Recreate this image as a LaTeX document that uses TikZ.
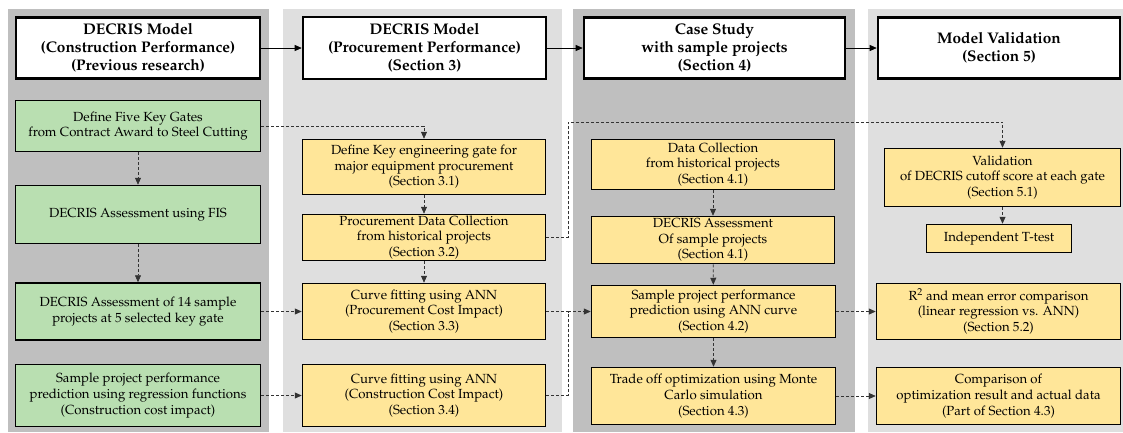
\documentclass[tikz,border=0pt]{standalone}
\usepackage[T1]{fontenc}
\usepackage{mathpazo}
\usetikzlibrary{arrows.meta}

\definecolor{darkbg}{HTML}{BFBFBF}
\definecolor{lightbg}{HTML}{DFDFDF}
\definecolor{greenbox}{HTML}{B9DFB1}
\definecolor{yellowbox}{HTML}{FFE699}

\begin{document}
\begin{tikzpicture}[x=1pt, y=-1pt,
    header/.style={draw, line width=2.6pt, fill=white, align=center, inner sep=0pt,
        font=\fontsize{15.4}{18}\selectfont\bfseries},
    stepbox/.style={draw, line width=1.5pt, align=center, inner sep=0pt,
        font=\fontsize{13.2}{15.6}\selectfont},
    greenstep/.style={stepbox, fill=greenbox},
    yellowstep/.style={stepbox, fill=yellowbox},
    flow/.style={-{Triangle[length=7pt,width=6pt]}, line width=0.7pt},
    dflow/.style={flow, dashed, dash pattern=on 3pt off 2pt, draw=black!80},
    dline/.style={dashed, dash pattern=on 3pt off 2pt, line width=0.7pt, draw=black!80}]

    \useasboundingbox (0,0) rectangle (1123,432);

    % Column backgrounds
    \fill[darkbg]  (8,9)   rectangle (269,432);
    \fill[lightbg] (283,9) rectangle (562,432);
    \fill[darkbg]  (573,9) rectangle (855,432);
    \fill[lightbg] (868,9) rectangle (1123,432);

    % Headers
    \node[header, minimum width=244pt, minimum height=61pt] (h1) at (138,48)
        {DECRIS Model\\(Construction Performance)\\(Previous research)};
    \node[header, minimum width=243pt, minimum height=62pt] (h2) at (424.5,48)
        {DECRIS Model\\(Procurement Performance)\\(Section 3)};
    \node[header, minimum width=261pt, minimum height=61pt] (h3) at (714.5,48)
        {Case Study\\with sample projects\\(Section 4)};
    \node[header, minimum width=242pt, minimum height=61pt] (h4) at (999,48)
        {Model Validation\\(Section 5)};

    \draw[flow] (h1) -- (h2);
    \draw[flow] (h2) -- (h3);
    \draw[flow] (h3) -- (h4);

    % Column 1 (previous research)
    \node[greenstep, minimum width=245pt, minimum height=51pt] (g1) at (138,126)
        {Define Five Key Gates\\from Contract Award to Steel Cutting};
    \node[greenstep, minimum width=245pt, minimum height=58pt] (g2) at (138,214.5)
        {DECRIS Assessment using FIS};
    \node[greenstep, minimum width=245pt, minimum height=57pt] (g3) at (138,311.5)
        {DECRIS Assessment of 14 sample\\projects at 5 selected key gate};
    \node[greenstep, minimum width=245pt, minimum height=62pt] (g4) at (138,395.5)
        {Sample project performance\\prediction using regression functions\\(Construction cost impact)};

    \draw[dflow] (g1) -- (g2);
    \draw[dflow] (g2) -- (g3);

    % Column 2 (section 3)
    \node[yellowstep, minimum width=243pt, minimum height=55pt] (p1) at (424,167)
        {Define Key engineering gate for\\major equipment procurement\\(Section 3.1)};
    \node[yellowstep, minimum width=243pt, minimum height=46pt] (p2) at (424,237.5)
        {Procurement Data Collection\\from historical projects\\(Section 3.2)};
    \node[yellowstep, minimum width=243pt, minimum height=56pt] (p3) at (424,311.5)
        {Curve fitting using ANN\\(Procurement Cost Impact)\\(Section 3.3)};
    \node[yellowstep, minimum width=243pt, minimum height=62pt] (p4) at (424,395.5)
        {Curve fitting using ANN\\(Construction Cost Impact)\\(Section 3.4)};

    \draw[dflow] (g1.east) -| (p1.north);
    \draw[dflow] (p1) -- (p2);
    \draw[dflow] (p2) -- (p3);
    \draw[dflow] (g3.east) -- (p3.west);
    \draw[dflow] (g4.east) -- (p4.west);

    % Column 3 (section 4)
    \node[yellowstep, minimum width=243pt, minimum height=50pt] (s1) at (713,164.5)
        {Data Collection\\from historical projects\\(Section 4.1)};
    \node[yellowstep, minimum width=243pt, minimum height=47pt] (s2) at (713,240)
        {DECRIS Assessment\\Of sample projects\\(Section 4.1)};
    \node[yellowstep, minimum width=244pt, minimum height=52pt] (s3) at (713.5,311.5)
        {Sample project performance\\prediction using ANN curve\\(Section 4.2)};
    \node[yellowstep, minimum width=244pt, minimum height=57pt] (s4) at (713.5,396)
        {Trade off optimization using Monte\\Carlo simulation\\(Section 4.3)};

    \draw[dflow] (s1) -- (s2);
    \draw[dflow] (s2) -- (s3);
    \draw[dflow] (s3) -- (s4);

    % Column 4 (section 5)
    \node[yellowstep, minimum width=236pt, minimum height=58pt] (v1) at (1002.5,177.5)
        {Validation\\of DECRIS cutoff score at each gate\\(Section 5.1)};
    \node[yellowstep, minimum width=145pt, minimum height=28pt] (v2) at (999,238.5)
        {Independent T-test};
    \node[yellowstep, minimum width=244pt, minimum height=56pt] (v3) at (998.5,311.5)
        {R$^2$ and mean error comparison\\(linear regression vs. ANN)\\(Section 5.2)};
    \node[yellowstep, minimum width=244pt, minimum height=57pt] (v4) at (998.5,396)
        {Comparison of\\optimization result and actual data\\(Part of Section 4.3)};

    \draw[dflow] (v1.south) -- (v1.south |- v2.north);
    \draw[dflow] (s3.east) -- (v3.west);
    \draw[dflow] (s4.east) -- (v4.west);

    % Links across columns
    \coordinate (turn) at (568,122);
    \coordinate (join) at (568,311.5);
    \draw[dflow] (p2.east) -| (turn) -| (v1.north);
    \draw[dline] (p3.east) -- (join);
    \draw[dline] (p4.east) -| (join);
    \draw[dflow] (join) -- (s3.west);
\end{tikzpicture}
\end{document}
